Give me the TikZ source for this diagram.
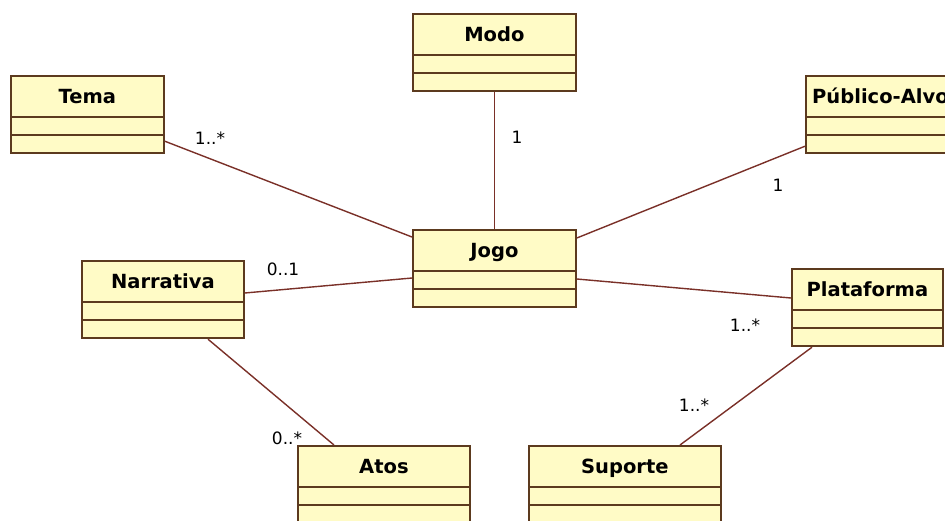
\documentclass[tikz,border=0pt]{standalone}
\usepackage{fontspec}
\setmainfont{DejaVu Sans}
\usetikzlibrary{calc,positioning,shapes.multipart}

\definecolor{classfill}{HTML}{FFFBC6}
\definecolor{classline}{HTML}{5C3A1E}
\definecolor{assocline}{HTML}{7A3028}

\newcommand{\hdr}[1]{\rule[-13pt]{0pt}{40pt}\textbf{#1}}
\newcommand{\emptypart}{\rule{0pt}{16pt}}

\begin{document}
\begin{tikzpicture}[
    x=1pt, y=-1pt,
    uml/.style={rectangle split, rectangle split parts=3, rectangle split draw splits=false, draw=classline, fill=classfill, line width=1.8pt, inner sep=0pt, anchor=north west, font=\fontsize{19.5}{22}\selectfont},
    compline/.style={draw=classline, line width=1.8pt},
    assoc/.style={draw=assocline, line width=1.4pt},
    mult/.style={font=\fontsize{17}{20}\selectfont, inner sep=0pt}
]
\useasboundingbox (0,0) rectangle (945,520);

\node[uml, minimum width=153pt] (Tema) at (10,75) {\hdr{Tema}\nodepart{second}\emptypart\nodepart{third}\emptypart};
\node[uml, minimum width=163pt] (Modo) at (412,13) {\hdr{Modo}\nodepart{second}\emptypart\nodepart{third}\emptypart};
\node[uml, minimum width=149pt] (Publico) at (805,75) {\hdr{Público-Alvo}\nodepart{second}\emptypart\nodepart{third}\emptypart};
\node[uml, minimum width=163pt] (Jogo) at (412,229) {\hdr{Jogo}\nodepart{second}\emptypart\nodepart{third}\emptypart};
\node[uml, minimum width=162pt] (Narrativa) at (81,260) {\hdr{Narrativa}\nodepart{second}\emptypart\nodepart{third}\emptypart};
\node[uml, minimum width=151pt] (Plataforma) at (791,268) {\hdr{Plataforma}\nodepart{second}\emptypart\nodepart{third}\emptypart};
\node[uml, minimum width=172pt] (Atos) at (297,445) {\hdr{Atos}\nodepart{second}\emptypart\nodepart{third}\emptypart};
\node[uml, minimum width=192pt] (Suporte) at (528,445) {\hdr{Suporte}\nodepart{second}\emptypart\nodepart{third}\emptypart};

% compartment lines
\foreach \c in {Tema,Modo,Publico,Jogo,Narrativa,Plataforma,Atos,Suporte} {
  \draw[compline] ([yshift=-42pt]\c.north west) -- ([yshift=-42pt]\c.north east);
  \draw[compline] ([yshift=-60pt]\c.north west) -- ([yshift=-60pt]\c.north east);
}

% associations
\draw[assoc] ([yshift=13pt]Tema.south east) -- ([yshift=-8pt]Jogo.north west);
\draw[assoc] (Modo.south) -- (Jogo.north);
\draw[assoc] ([yshift=8pt]Publico.south west) -- ([yshift=-9pt]Jogo.north east);
\draw[assoc] ([yshift=-33pt]Narrativa.north east) -- ([yshift=-49pt]Jogo.north west);
\draw[assoc] ([yshift=-50pt]Jogo.north east) -- ([yshift=-30pt]Plataforma.north west);
\draw[assoc] ([xshift=127pt]Narrativa.south west) -- ([xshift=37pt]Atos.north west);
\draw[assoc] ([xshift=21pt]Plataforma.south west) -- ([xshift=152pt]Suporte.north west);

% multiplicities
\node[mult] (mTema) at (210,138) {1..*};
\node[mult] (mModo) at (517,137) {1};
\node[mult] (mPublico) at (778,185) {1};
\node[mult] (mNarrativa) at (283,269) {0..1};
\node[mult] (mPlataforma) at (745,325) {1..*};
\node[mult] (mAtos) at (287,438) {0..*};
\node[mult] (mSuporte) at (694,405) {1..*};
\end{tikzpicture}
\end{document}
